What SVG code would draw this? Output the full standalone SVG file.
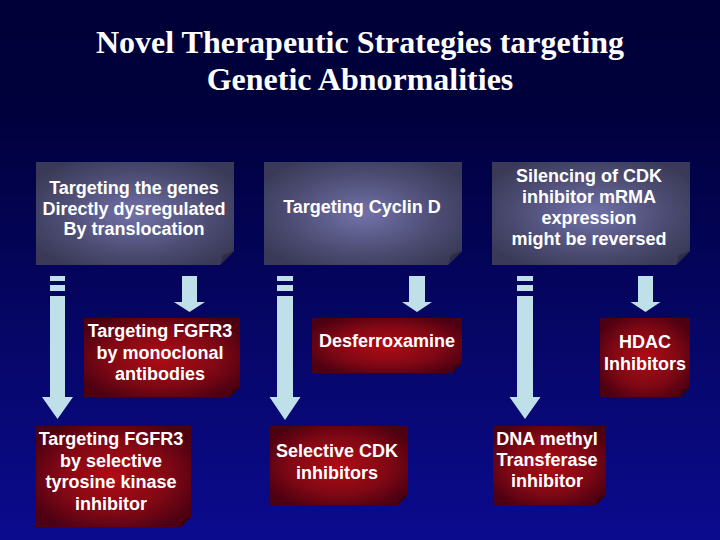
<svg xmlns="http://www.w3.org/2000/svg" width="720" height="540" viewBox="0 0 720 540">
<defs>
<linearGradient id="bg" x1="0" y1="0" x2="0" y2="1">
<stop offset="0" stop-color="#000038"/>
<stop offset="0.2" stop-color="#00003c"/>
<stop offset="1" stop-color="#0b0b8e"/>
</linearGradient>
<radialGradient id="gray" cx="0.5" cy="0.5" r="0.6">
<stop offset="0" stop-color="#7272aa"/>
<stop offset="0.6" stop-color="#4e4e76"/>
<stop offset="1" stop-color="#3a3a58"/>
</radialGradient>
<radialGradient id="red" cx="0.5" cy="0.5" r="0.6">
<stop offset="0" stop-color="#b00c14"/>
<stop offset="0.6" stop-color="#800814"/>
<stop offset="1" stop-color="#4c0012"/>
</radialGradient>
<style>
.t{font-family:"Liberation Sans",Arial,sans-serif;font-weight:bold;font-size:18px;fill:#ffffff;text-anchor:middle}
.title{font-family:"Liberation Serif","Times New Roman",serif;font-weight:bold;font-size:32px;fill:#ffffff;text-anchor:middle}
.gb{fill:url(#gray)}
.rb{fill:url(#red)}
.gf{fill:#2c2c44}
.rf{fill:#3a0010}
.ar{fill:#bfdfe9}
</style>
</defs>
<rect width="720" height="540" fill="url(#bg)"/>
<g id="title">
<text class="title" x="360" y="53">Novel Therapeutic Strategies targeting</text>
<text class="title" x="360" y="90">Genetic Abnormalities</text>
</g>
<g id="connectors">
<g id="a1">
<rect class="ar" x="50" y="276" width="15" height="5"/>
<rect class="ar" x="50" y="285" width="15" height="6"/>
<path class="ar" d="M50 296H65V397H73L57.5 419L42 397H50Z"/>
</g>
<path id="a2" class="ar" d="M182 276H197V302H205L189.5 312L174 302H182Z"/>
<g id="a3">
<rect class="ar" x="277" y="276" width="16" height="5"/>
<rect class="ar" x="277" y="285" width="16" height="6"/>
<path class="ar" d="M277 296H293V397H300.5L285 420L269.5 397H277Z"/>
</g>
<path id="a4" class="ar" d="M409 276H425V302H432L417 312L402 302H409Z"/>
<g id="a5">
<rect class="ar" x="517" y="276" width="16" height="5"/>
<rect class="ar" x="517" y="285" width="16" height="6"/>
<path class="ar" d="M517 296H533V397H540.5L525 419L509.5 397H517Z"/>
</g>
<path id="a6" class="ar" d="M638 276H653V302H660.5L645.5 312L630.5 302H638Z"/>
</g>
<g id="n1">
<path class="gb" d="M36 162H234V251L220 265H36Z"/>
<path class="gf" d="M220 265L234 251L223 255Z"/>
<text class="t" x="134" y="194">Targeting the genes</text>
<text class="t" x="134" y="214.5">Directly dysregulated</text>
<text class="t" x="134" y="235">By translocation</text>
</g>
<g id="n2">
<path class="gb" d="M264 162H462V251L448 265H264Z"/>
<path class="gf" d="M448 265L462 251L451 255Z"/>
<text class="t" x="362" y="213">Targeting Cyclin D</text>
</g>
<g id="n3">
<path class="gb" d="M492 162H690V251L676 265H492Z"/>
<path class="gf" d="M676 265L690 251L679 255Z"/>
<text class="t" x="589" y="182">Silencing of CDK</text>
<text class="t" x="589" y="203">inhibitor mRMA</text>
<text class="t" x="589" y="224">expression</text>
<text class="t" x="589" y="245">might be reversed</text>
</g>
<g id="n4">
<path class="rb" d="M84 318H240V387L230 397H84Z"/>
<path class="rf" d="M230 397L240 387L232 390Z"/>
<text class="t" x="160" y="337">Targeting FGFR3</text>
<text class="t" x="160" y="358.5">by monoclonal</text>
<text class="t" x="160" y="380">antibodies</text>
</g>
<g id="n5">
<path class="rb" d="M36 426H191V517L181 527H36Z"/>
<path class="rf" d="M181 527L191 517L183 520Z"/>
<text class="t" x="111" y="445">Targeting FGFR3</text>
<text class="t" x="111" y="466.5">by selective</text>
<text class="t" x="111" y="488">tyrosine kinase</text>
<text class="t" x="111" y="509.5">inhibitor</text>
</g>
<g id="n6">
<path class="rb" d="M312 318H462V363L452 373H312Z"/>
<path class="rf" d="M452 373L462 363L454 366Z"/>
<text class="t" x="387" y="347">Desferroxamine</text>
</g>
<g id="n7">
<path class="rb" d="M270 426H408V495L398 505H270Z"/>
<path class="rf" d="M398 505L408 495L400 498Z"/>
<text class="t" x="337" y="457">Selective CDK</text>
<text class="t" x="337" y="478.5">inhibitors</text>
</g>
<g id="n8">
<path class="rb" d="M600 318H690V387L680 397H600Z"/>
<path class="rf" d="M680 397L690 387L682 390Z"/>
<text class="t" x="645" y="348">HDAC</text>
<text class="t" x="645" y="370">Inhibitors</text>
</g>
<g id="n9">
<path class="rb" d="M493 426H606V495L596 505H493Z"/>
<path class="rf" d="M596 505L606 495L598 498Z"/>
<text class="t" x="547" y="445">DNA methyl</text>
<text class="t" x="547" y="466">Transferase</text>
<text class="t" x="547" y="487">inhibitor</text>
</g>
</svg>
